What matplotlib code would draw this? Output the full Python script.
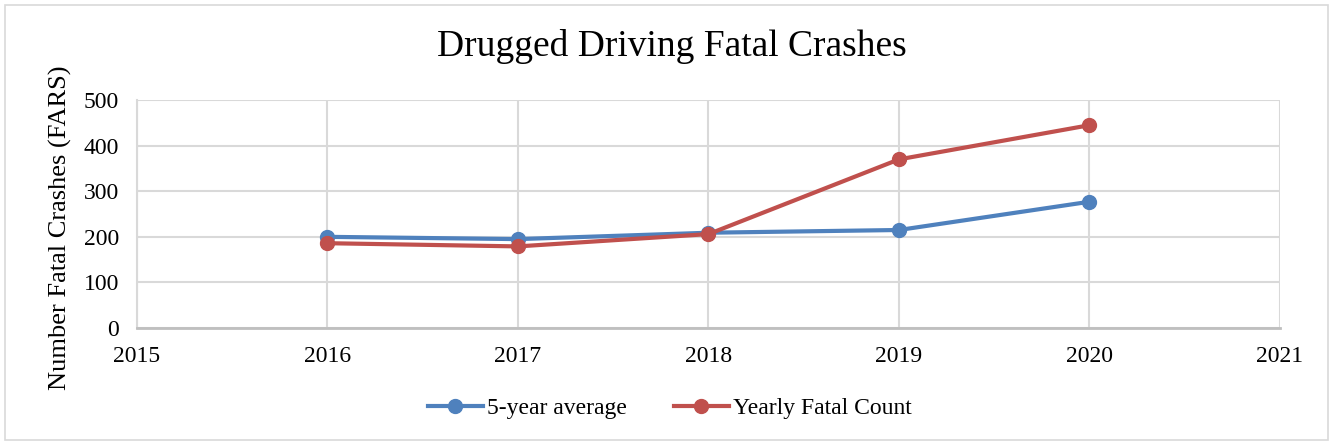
import matplotlib.pyplot as plt
from matplotlib.patches import Rectangle

# data
years = [2016, 2017, 2018, 2019, 2020]
avg5 = [200, 195, 209, 215, 277]
yearly = [186, 179, 206, 370, 445]

plt.rcParams['font.family'] = ['Liberation Serif', 'DejaVu Serif']

fig = plt.figure(figsize=(13.35, 4.45), dpi=100)
ax = fig.add_axes([0.1026, 0.263, 0.8562, 0.512])

ax.plot(years, avg5, color='#4f81bd', lw=3, marker='o', ms=10, label='5-year average', zorder=3)
ax.plot(years, yearly, color='#c0504d', lw=3, marker='o', ms=10, label='Yearly Fatal Count', zorder=3)

ax.set_xlim(2015, 2021)
ax.set_ylim(0, 500)
ax.set_xticks(range(2015, 2022))
ax.set_yticks(range(0, 501, 100))
ax.grid(True, color='#d9d9d9', lw=1.5)
ax.set_axisbelow(True)
for s in ['top', 'right']:
    ax.spines[s].set_visible(False)
ax.spines['left'].set_color('#d9d9d9')
ax.spines['left'].set_linewidth(1.5)
ax.spines['bottom'].set_color('#bfbfbf')
ax.spines['bottom'].set_linewidth(2)
ax.tick_params(length=0, labelsize=17, colors='black')
ax.tick_params(axis='x', pad=13)
ax.tick_params(axis='y', pad=13)

ax.set_ylabel('Number Fatal Crashes (FARS)', fontsize=19)
ax.yaxis.set_label_coords(-0.057, 0.44)
fig.text(0.503, 0.895, 'Drugged Driving Fatal Crashes', ha='center', va='center', fontsize=27)

fig.legend(loc='center', bbox_to_anchor=(0.502, 0.083), ncol=2, frameon=False,
           fontsize=17, handlelength=2.3, columnspacing=2.0, handletextpad=0.2)

fig.patches.append(Rectangle((0.004, 0.011), 0.991, 0.978, transform=fig.transFigure,
                             fill=False, edgecolor='#d9d9d9', lw=1.2))

fig.savefig('out.png', dpi=100)
